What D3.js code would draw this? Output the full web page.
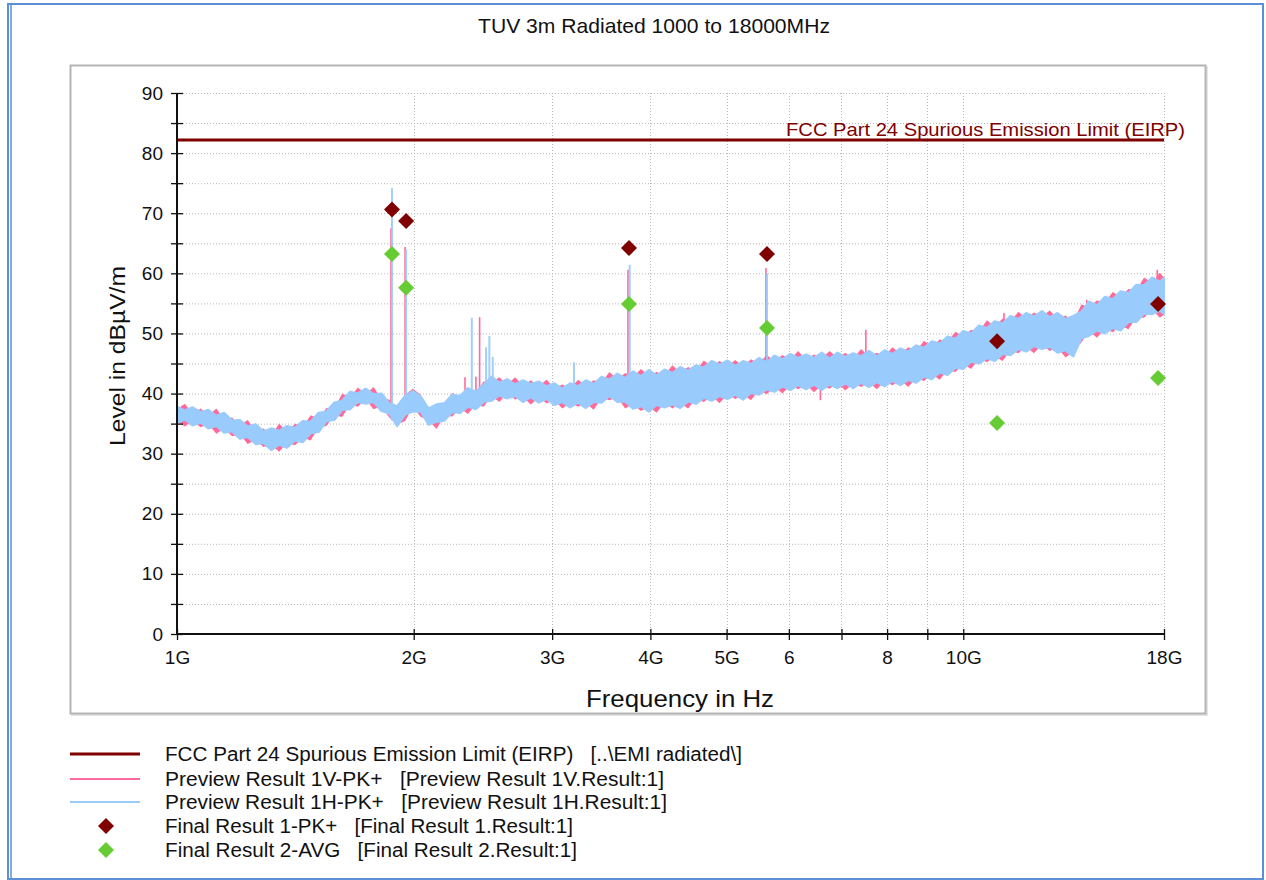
<!DOCTYPE html>
<html>
<head>
<meta charset="utf-8">
<script src="https://cdn.jsdelivr.net/npm/d3@7"></script>
<style>
  html, body { margin: 0; padding: 0; background: #fff; }
  svg { display: block; font-family: "Liberation Sans", Arial, sans-serif; }
  text { white-space: pre; }
</style>
</head>
<body>
<svg id="chart" width="1266" height="880"></svg>
<script>
// ---------------- DATA ----------------
const chartTitle = "TUV 3m Radiated 1000 to 18000MHz";
const xAxisTitle = "Frequency in Hz";
const yAxisTitle = "Level in dBµV/m";

const xTickGHz   = [1, 2, 3, 4, 5, 6, 7, 8, 9, 10, 18];
const xTickLabel = ["1G", "2G", "3G", "4G", "5G", "6", "", "8", "", "10G", "18G"];
const xGridGHz   = [2, 3, 4, 5, 6, 7, 8, 9, 10, 18];
const yTicks     = [0, 5, 10, 15, 20, 25, 30, 35, 40, 45, 50, 55, 60, 65, 70, 75, 80, 85, 90];
const yTickLabel = ["0", "", "10", "", "20", "", "30", "", "40", "", "50", "", "60", "", "70", "", "80", "", "90"];

const limitLevel = 82.2;
const limitLabel = "FCC Part 24 Spurious Emission Limit (EIRP)";

// Preview sweeps, read as envelope of the dense trace (GHz, dBµV/m)
const bandGHz = [1.000,1.023,1.047,1.072,1.096,1.122,1.148,1.175,1.202,1.230,1.259,1.288,1.318,1.349,1.380,1.413,1.445,1.479,1.514,1.549,
  1.585,1.622,1.660,1.698,1.738,1.778,1.820,1.862,1.905,1.950,1.995,2.042,2.089,2.138,2.188,2.239,2.291,2.344,2.399,2.455,
  2.512,2.570,2.630,2.692,2.754,2.818,2.884,2.951,3.020,3.090,3.162,3.236,3.311,3.388,3.467,3.548,3.631,3.715,3.802,3.890,
  3.981,4.074,4.169,4.266,4.365,4.467,4.571,4.677,4.786,4.898,5.012,5.129,5.248,5.370,5.495,5.623,5.754,5.888,6.026,6.166,
  6.310,6.457,6.607,6.761,6.918,7.079,7.244,7.413,7.586,7.762,7.943,8.128,8.318,8.511,8.710,8.913,9.120,9.333,9.550,9.772,
  10.00,10.23,10.47,10.72,10.96,11.22,11.48,11.75,12.02,12.30,12.59,12.88,13.18,13.49,13.80,14.13,14.45,14.79,15.14,15.49,
  15.85,16.22,16.60,16.98,17.38,17.78,18.00];
const blueHi = [37.8,37.2,37.7,36.9,37.3,36.3,36.8,35.5,35.6,34.5,34.9,33.7,34.2,33.8,34.6,34.3,35.4,35.3,36.8,37.0,
  38.5,38.8,40.3,40.0,40.8,39.9,40.0,38.4,37.9,39.6,40.4,39.5,37.5,38.2,38.4,39.8,39.6,40.9,40.3,41.5,
  42.8,41.8,42.4,41.5,42.2,41.6,42.0,41.2,41.7,40.8,41.7,41.2,42.2,41.6,42.8,42.3,43.3,42.6,43.7,42.9,
  43.9,43.0,44.0,43.4,44.4,43.8,44.7,44.3,45.4,44.8,45.5,44.6,45.4,44.9,45.9,45.2,46.3,45.7,46.6,45.9,
  46.5,45.9,46.8,45.8,46.8,46.1,46.7,46.2,47.1,46.2,47.2,46.6,47.5,47.0,48.0,47.6,48.7,48.3,49.5,49.1,
  50.4,50.0,51.3,50.9,52.0,51.7,52.9,52.4,53.4,52.8,53.7,52.7,53.4,52.4,52.9,53.6,55.3,54.7,56.1,55.7,
  57.0,56.7,58.1,58.0,59.3,58.6,59.2];
const blueLo = [35.1,35.7,34.7,35.2,34.2,34.6,33.5,33.7,32.5,32.8,31.6,31.8,30.6,31.5,31.0,32.2,31.9,33.4,33.6,35.4,
  35.6,37.3,37.4,38.6,38.3,38.6,37.1,36.7,34.6,36.5,37.0,37.0,34.8,35.3,35.5,36.9,36.8,37.8,37.4,38.6,
  38.8,39.7,39.2,39.6,38.6,39.4,38.5,39.1,38.1,38.6,37.7,38.5,37.6,38.6,38.5,39.6,38.6,38.7,37.5,37.9,
  37.0,38.1,37.7,38.2,37.6,38.7,38.3,39.3,38.8,39.6,39.1,39.8,39.0,40.1,39.8,40.7,40.3,41.2,40.6,41.4,
  40.7,41.5,40.6,41.5,40.9,41.7,40.9,41.8,41.1,41.9,41.2,42.1,41.4,42.3,41.8,42.8,42.4,43.5,43.1,44.3,
  44.1,45.3,45.0,45.9,45.4,46.6,46.4,47.4,47.0,47.9,47.4,47.8,46.8,47.2,46.2,49.2,49.6,50.5,50.0,50.9,
  50.5,51.9,51.9,53.3,53.2,53.8,53.3];
const pinkHi = [37.4,38.3,36.7,37.5,36.3,37.5,35.7,36.0,34.7,35.6,33.8,34.2,33.1,35.0,33.5,35.0,34.4,36.4,35.8,37.6,
  37.5,40.0,39.3,41.0,39.9,41.1,39.1,39.0,37.2,39.8,40.8,39.8,37.4,38.2,38.3,40.1,39.5,40.9,40.2,42.0,
  41.9,42.7,41.5,42.7,41.3,42.2,41.2,42.3,40.9,41.5,40.8,42.3,41.3,42.2,41.9,43.6,42.4,43.4,42.7,44.1,
  43.0,43.6,43.1,44.7,43.5,44.4,43.8,45.5,44.5,45.4,44.6,45.6,44.5,45.7,45.0,46.4,45.4,46.4,45.7,47.1,
  45.6,46.5,45.9,47.1,45.9,46.8,45.8,47.4,46.2,46.8,46.3,47.7,46.6,47.7,47.1,48.8,47.8,49.0,48.6,50.3,
  49.5,50.6,50.4,52.2,51.1,52.5,52.0,53.6,52.5,53.5,52.8,53.8,52.5,53.0,52.0,54.8,54.4,55.5,55.2,56.9,
  56.1,57.4,57.2,59.3,58.4,60.1,59.3];
const pinkLo = [35.4,34.5,35.4,34.4,34.9,33.3,34.2,32.9,33.2,31.6,32.3,31.1,31.4,30.3,31.8,31.4,32.7,32.2,34.4,34.6,
  36.4,36.1,38.2,37.8,39.0,37.4,37.9,36.0,34.9,35.4,37.8,36.1,35.6,34.1,36.3,36.2,37.6,36.6,38.2,37.8,
  39.6,38.6,40.0,39.0,39.4,38.2,39.3,38.4,38.9,37.5,38.5,37.8,38.4,37.3,39.3,38.9,39.4,37.5,38.3,37.1,
  37.8,36.8,38.5,37.5,38.4,37.5,39.1,38.6,39.6,38.4,39.9,39.1,39.8,38.9,40.6,39.9,41.1,40.0,41.4,40.7,
  41.5,40.2,41.4,40.8,41.7,40.5,41.7,41.1,41.9,40.7,42.0,41.4,42.2,41.1,42.6,42.1,43.2,42.3,43.9,43.6,
  44.9,44.1,45.8,45.2,46.2,45.4,47.2,46.7,47.8,46.7,48.2,47.1,47.6,46.0,47.0,48.5,50.4,49.3,50.8,50.2,
  51.3,50.7,52.7,52.6,54.0,52.6,53.1];

// Narrow spikes of the sweeps (GHz, from, to dBµV/m)
const blueSpikeGHz = [1.877, 1.956, 2.371, 2.472, 2.496, 2.521, 3.198, 3.765, 5.628];
const blueSpikeLo  = [35.5, 37.5, 39.0, 39.0, 39.5, 40.0, 40.0, 38.5, 41.0];
const blueSpikeHi  = [74.2, 64.0, 52.6, 47.7, 49.6, 46.1, 45.2, 61.4, 60.0];
const pinkSpikeGHz = [1.877, 1.956, 2.331, 2.407, 2.433, 3.757, 5.628, 6.60, 7.54, 11.30, 14.40, 17.70];
const pinkSpikeLo  = [36.0, 38.0, 39.0, 39.0, 38.0, 39.0, 41.0, 38.9, 45.0, 50.0, 52.0, 56.0];
const pinkSpikeHi  = [67.5, 64.4, 42.7, 42.8, 52.7, 60.6, 60.9, 42.0, 50.6, 53.4, 55.6, 60.6];

// Final results
const finalGHz  = [1.877, 1.956, 3.757, 5.628, 11.04, 17.69];
const finalPK   = [70.6, 68.7, 64.2, 63.2, 48.7, 54.9];
const finalAVG  = [63.2, 57.6, 54.9, 50.9, 35.1, 42.6];

const legendLabels = [
  "FCC Part 24 Spurious Emission Limit (EIRP)   [..\\EMI radiated\\]",
  "Preview Result 1V-PK+   [Preview Result 1V.Result:1]",
  "Preview Result 1H-PK+   [Preview Result 1H.Result:1]",
  "Final Result 1-PK+   [Final Result 1.Result:1]",
  "Final Result 2-AVG   [Final Result 2.Result:1]"
];

// ---------------- STYLE ----------------
const C = { limit: "#800000", pink: "#ff6a9a", blue: "#99cbfd", pk: "#800000", avg: "#66cc33",
            grid: "#b8b8b8", axis: "#111", frame: "#b4b4b4", outer: "#5b8fd6" };

const svg = d3.select("#chart");
const x = d3.scaleLog().domain([1e9, 18e9]).range([177, 1164]);
const y = d3.scaleLinear().domain([0, 90]).range([634, 93]);
const G = v => v * 1e9;

// outer border
svg.append("rect").attr("x", 8).attr("y", 4).attr("width", 1255).attr("height", 875)
  .attr("fill", "none").attr("stroke", C.outer).attr("stroke-width", 2);
svg.append("line").attr("x1", 11).attr("x2", 11).attr("y1", 4).attr("y2", 879)
  .attr("stroke", C.outer).attr("stroke-width", 1.5);

// title
svg.append("text").attr("x", 478).attr("y", 33).attr("font-size", 21).attr("fill", "#111")
  .attr("textLength", 352).attr("lengthAdjust", "spacingAndGlyphs").text(chartTitle);

// panel frame
svg.append("rect").attr("x", 72).attr("y", 67).attr("width", 1135).attr("height", 648)
  .attr("fill", "none").attr("stroke", "#e4e4e4").attr("stroke-width", 2);
svg.append("rect").attr("x", 70.5).attr("y", 65.5).attr("width", 1135).attr("height", 648)
  .attr("fill", "#fff").attr("stroke", C.frame).attr("stroke-width", 2);

// grid
const grid = svg.append("g");
grid.selectAll("line.h").data(yTicks.filter(v => v > 0)).join("line")
  .attr("x1", x.range()[0]).attr("x2", x.range()[1])
  .attr("y1", d => y(d) + 0.5).attr("y2", d => y(d) + 0.5)
  .attr("stroke", C.grid).attr("stroke-dasharray", "1,2");
grid.selectAll("line.v").data(xGridGHz).join("line")
  .attr("x1", d => Math.round(x(G(d))) + 0.5).attr("x2", d => Math.round(x(G(d))) + 0.5)
  .attr("y1", y(0)).attr("y2", y(90))
  .attr("stroke", C.grid).attr("stroke-dasharray", "1,2");

// clip
svg.append("clipPath").attr("id", "plotclip").append("rect")
  .attr("x", x.range()[0]).attr("y", y(90) - 2).attr("width", x.range()[1] - x.range()[0] + 1).attr("height", y(0) - y(90) + 2);
const plot = svg.append("g").attr("clip-path", "url(#plotclip)");

// limit line
plot.append("line").attr("x1", x.range()[0]).attr("x2", x.range()[1])
  .attr("y1", y(limitLevel)).attr("y2", y(limitLevel))
  .attr("stroke", C.limit).attr("stroke-width", 3);

const band = (lo, hi) => d3.area().x((d, i) => x(G(bandGHz[i]))).y0((d, i) => y(lo[i])).y1((d, i) => y(hi[i]))(bandGHz);

// pink trace (1V)
plot.append("path").attr("d", band(pinkLo, pinkHi)).attr("fill", C.pink);
plot.selectAll("line.ps").data(pinkSpikeGHz).join("line")
  .attr("x1", d => x(G(d)) - 1).attr("x2", d => x(G(d)) - 1)
  .attr("y1", (d, i) => y(pinkSpikeLo[i])).attr("y2", (d, i) => y(pinkSpikeHi[i]))
  .attr("stroke", C.pink).attr("stroke-width", 1.6);

// blue trace (1H)
plot.append("path").attr("d", band(blueLo, blueHi)).attr("fill", C.blue)
  .attr("stroke", C.blue).attr("stroke-width", 2.2).attr("stroke-linejoin", "round");
plot.selectAll("line.bs").data(blueSpikeGHz).join("line")
  .attr("x1", d => x(G(d))).attr("x2", d => x(G(d)))
  .attr("y1", (d, i) => y(blueSpikeLo[i])).attr("y2", (d, i) => y(blueSpikeHi[i]))
  .attr("stroke", C.blue).attr("stroke-width", 2).attr("opacity", 0.9);

// limit label
svg.append("text").attr("x", 786).attr("y", 136).attr("font-size", 19).attr("fill", C.limit)
  .attr("textLength", 399).attr("lengthAdjust", "spacingAndGlyphs").text(limitLabel);

// diamonds
const diamond = d3.symbol().type(d3.symbolSquare).size(128);
svg.append("g").selectAll("path").data(finalGHz).join("path")
  .attr("d", diamond).attr("fill", C.pk)
  .attr("transform", (d, i) => `translate(${x(G(d))},${y(finalPK[i])}) rotate(45)`);
svg.append("g").selectAll("path").data(finalGHz).join("path")
  .attr("d", diamond).attr("fill", C.avg)
  .attr("transform", (d, i) => `translate(${x(G(d))},${y(finalAVG[i])}) rotate(45)`);

// axes
const yAxis = d3.axisLeft(y).tickValues(yTicks).tickSize(6).tickPadding(8)
  .tickFormat((d, i) => yTickLabel[i]);
const gy = svg.append("g").attr("transform", `translate(${x.range()[0]},0)`).call(yAxis);
gy.select(".domain").attr("stroke", C.axis).attr("stroke-width", 2).attr("d", `M0,${y(0)}V${y(90)}`);
gy.selectAll(".tick line").attr("x1", 6).attr("x2", -6).attr("stroke", C.axis).attr("stroke-width", 1.3);
gy.selectAll(".tick text").attr("font-size", 19).attr("fill", "#111").attr("font-family", "Liberation Sans, Arial, sans-serif");

const xAxis = d3.axisBottom(x).tickValues(xTickGHz.map(G)).tickSize(6).tickPadding(11)
  .tickFormat((d, i) => xTickLabel[i]);
const gx = svg.append("g").attr("transform", `translate(0,${y(0)})`).call(xAxis);
gx.select(".domain").attr("stroke", C.axis).attr("stroke-width", 2).attr("d", `M${x.range()[0]},0H${x.range()[1]}`);
gx.selectAll(".tick line").attr("y1", -5).attr("y2", 6).attr("stroke", C.axis).attr("stroke-width", 1.3);
gx.selectAll(".tick text").attr("font-size", 19).attr("fill", "#111").attr("font-family", "Liberation Sans, Arial, sans-serif");

// axis titles
svg.append("text").attr("x", 586).attr("y", 707).attr("font-size", 24).attr("fill", "#111")
  .attr("textLength", 188).attr("lengthAdjust", "spacingAndGlyphs").text(xAxisTitle);
svg.append("text").attr("transform", "translate(125,356) rotate(-90)").attr("text-anchor", "middle")
  .attr("font-size", 22).attr("fill", "#111").attr("textLength", 180).attr("lengthAdjust", "spacingAndGlyphs")
  .text(yAxisTitle);

// legend
const legY = [754, 779, 802, 826, 850];
const legLen = [577, 499, 502, 408, 412];
const leg = svg.append("g");
[[C.limit, 3], [C.pink, 2], [C.blue, 2]].forEach(([c, w], i) => {
  leg.append("line").attr("x1", 70).attr("x2", 140).attr("y1", legY[i]).attr("y2", legY[i])
    .attr("stroke", c).attr("stroke-width", w);
});
[C.pk, C.avg].forEach((c, j) => {
  leg.append("path").attr("d", diamond).attr("fill", c)
    .attr("transform", `translate(106,${legY[3 + j]}) rotate(45)`);
});
legendLabels.forEach((t, i) => {
  leg.append("text").attr("x", 165).attr("y", legY[i]).attr("dy", "0.36em").attr("font-size", 20).attr("fill", "#111")
    .attr("textLength", legLen[i]).attr("lengthAdjust", "spacingAndGlyphs").text(t);
});
</script>
</body>
</html>
